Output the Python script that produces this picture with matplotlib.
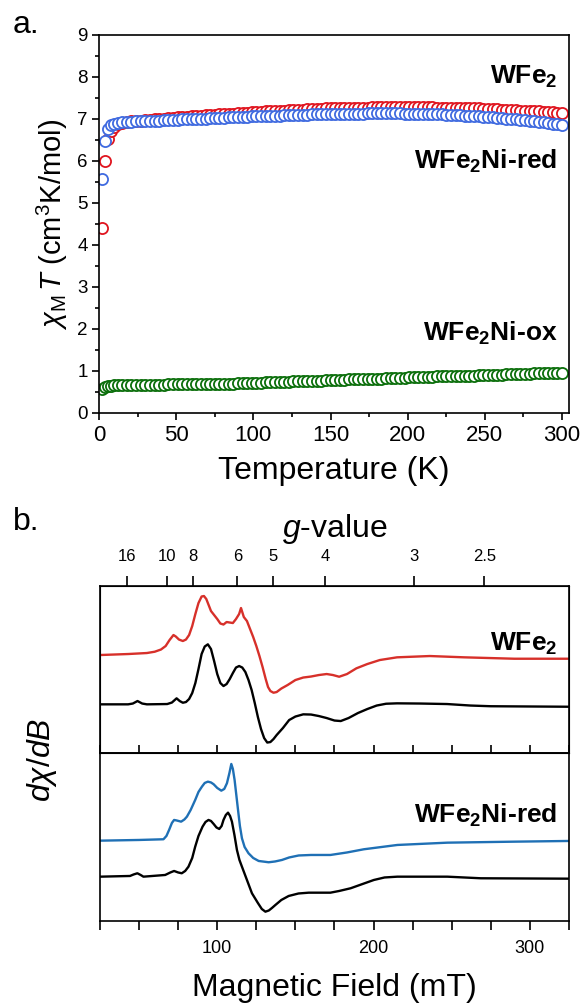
import matplotlib
matplotlib.use("Agg")
import matplotlib.pyplot as plt
from matplotlib.ticker import MultipleLocator, FixedLocator, NullFormatter

plt.rcParams['font.family'] = ['Liberation Sans', 'DejaVu Sans']
plt.rcParams['mathtext.fontset'] = 'custom'
plt.rcParams['mathtext.rm'] = 'Liberation Sans'
plt.rcParams['mathtext.it'] = 'Liberation Sans:italic'
plt.rcParams['mathtext.bf'] = 'Liberation Sans:bold'

# ---- panel a: chi_M T vs temperature ----
temp = [2, 4, 6, 8, 10, 12, 15, 18, 21, 24,
        27, 30, 33, 36, 39, 42, 45, 48, 51, 54,
        57, 60, 63, 66, 69, 72, 75, 78, 81, 84,
        87, 90, 93, 96, 99, 102, 105, 108, 111, 114,
        117, 120, 123, 126, 129, 132, 135, 138, 141, 144,
        147, 150, 153, 156, 159, 162, 165, 168, 171, 174,
        177, 180, 183, 186, 189, 192, 195, 198, 201, 204,
        207, 210, 213, 216, 219, 222, 225, 228, 231, 234,
        237, 240, 243, 246, 249, 252, 255, 258, 261, 264,
        267, 270, 273, 276, 279, 282, 285, 288, 291, 294,
        297, 300]

chiT_wfe2 = [4.40, 6.00, 6.52, 6.72, 6.82, 6.87, 6.90, 6.92, 6.94, 6.95,
             6.96, 6.97, 6.98, 6.99, 7.00, 7.01, 7.02, 7.03, 7.04, 7.05,
             7.05, 7.06, 7.07, 7.08, 7.09, 7.10, 7.10, 7.11, 7.12, 7.13,
             7.13, 7.14, 7.15, 7.15, 7.16, 7.17, 7.17, 7.18, 7.19, 7.19,
             7.20, 7.20, 7.21, 7.21, 7.22, 7.22, 7.23, 7.23, 7.24, 7.24,
             7.25, 7.25, 7.25, 7.26, 7.26, 7.26, 7.27, 7.27, 7.27, 7.27,
             7.28, 7.28, 7.28, 7.28, 7.28, 7.28, 7.28, 7.28, 7.28, 7.28,
             7.28, 7.28, 7.28, 7.28, 7.27, 7.27, 7.27, 7.27, 7.26, 7.26,
             7.26, 7.25, 7.25, 7.25, 7.24, 7.24, 7.23, 7.23, 7.22, 7.22,
             7.21, 7.21, 7.20, 7.20, 7.19, 7.19, 7.18, 7.17, 7.17, 7.16,
             7.15, 7.15]

chiT_red = [5.57, 6.47, 6.75, 6.85, 6.89, 6.91, 6.92, 6.93, 6.93, 6.94,
            6.94, 6.95, 6.95, 6.96, 6.96, 6.97, 6.97, 6.98, 6.98, 6.99,
            6.99, 7.00, 7.00, 7.01, 7.01, 7.02, 7.02, 7.03, 7.03, 7.04,
            7.04, 7.04, 7.05, 7.05, 7.06, 7.06, 7.07, 7.07, 7.07, 7.08,
            7.08, 7.09, 7.09, 7.09, 7.10, 7.10, 7.10, 7.11, 7.11, 7.11,
            7.12, 7.12, 7.12, 7.12, 7.13, 7.13, 7.13, 7.13, 7.13, 7.14,
            7.14, 7.14, 7.14, 7.14, 7.14, 7.14, 7.14, 7.13, 7.13, 7.13,
            7.13, 7.12, 7.12, 7.12, 7.11, 7.11, 7.10, 7.10, 7.09, 7.09,
            7.08, 7.07, 7.07, 7.06, 7.05, 7.04, 7.04, 7.03, 7.02, 7.01,
            7.00, 6.99, 6.98, 6.97, 6.96, 6.95, 6.93, 6.92, 6.91, 6.89,
            6.88, 6.86]

chiT_ox = [0.58, 0.62, 0.64, 0.65, 0.66, 0.66, 0.66, 0.67, 0.67, 0.67,
           0.67, 0.67, 0.67, 0.67, 0.67, 0.67, 0.68, 0.68, 0.68, 0.68,
           0.68, 0.68, 0.68, 0.69, 0.69, 0.69, 0.69, 0.70, 0.70, 0.70,
           0.70, 0.71, 0.71, 0.71, 0.72, 0.72, 0.72, 0.73, 0.73, 0.73,
           0.74, 0.74, 0.74, 0.75, 0.75, 0.76, 0.76, 0.76, 0.77, 0.77,
           0.78, 0.78, 0.78, 0.79, 0.79, 0.80, 0.80, 0.80, 0.81, 0.81,
           0.82, 0.82, 0.82, 0.83, 0.83, 0.84, 0.84, 0.84, 0.85, 0.85,
           0.85, 0.86, 0.86, 0.86, 0.87, 0.87, 0.87, 0.88, 0.88, 0.88,
           0.89, 0.89, 0.89, 0.90, 0.90, 0.90, 0.91, 0.91, 0.91, 0.92,
           0.92, 0.92, 0.93, 0.93, 0.93, 0.94, 0.94, 0.94, 0.95, 0.95,
           0.96, 0.96]

# ---- panel b: EPR spectra (arbitrary units, offset) ----
field_wfe2_exp = [25, 43, 55, 60, 64, 67, 69.5, 72, 73.5, 75.5,
                  78, 80, 82, 84, 86, 88, 90, 91.5, 93, 94.5,
                  96, 98, 100, 102, 104, 106, 108, 110, 112, 114,
                  115.2, 116.2, 117, 119, 121, 123, 125, 127, 129, 131,
                  132.5, 134, 136, 138, 141, 145, 150, 155, 160, 165,
                  170, 174, 178, 183, 189, 196, 204, 215, 236, 258,
                  290, 325]
int_wfe2_exp = [98, 99, 100, 101.3, 103.5, 107, 113, 118, 116.5, 113.5,
                112, 113.5, 118, 127, 139, 150, 156.5, 157, 154, 148,
                142, 138, 134, 129.5, 128.5, 131, 130.5, 130, 134, 139,
                145, 140, 136, 132, 124, 116, 107, 97, 86, 74,
                66, 62, 60.3, 61, 64.5, 68, 73, 75.5, 76.5, 78,
                79, 78, 76.3, 79, 84.7, 89, 93, 95.7, 97, 95.7,
                94.3, 94.3]

field_wfe2_sim = [25, 43, 46, 49, 52, 55, 68, 71, 74, 76,
                  78, 80, 82, 84, 86, 88, 90, 92, 94, 96,
                  98, 100, 102, 104, 106, 108, 110, 112, 114, 116,
                  118, 120, 122, 124, 126, 128, 130, 132, 134, 136,
                  138, 142, 146, 150, 155, 160, 165, 170, 175, 179,
                  184, 190, 196, 202, 208, 215, 230, 247, 262, 275,
                  325]
int_wfe2_sim = [48.7, 48.7, 49.5, 52, 49.5, 48.7, 49, 50.5, 54.7, 52,
                50.3, 51, 54, 60, 70, 84, 99, 106.5, 108.7, 104,
                92, 79, 70, 67, 69, 74, 80, 85.5, 87, 85.5,
                81, 73, 63, 50, 36, 24, 15, 10.5, 11, 14,
                18, 25, 33, 36.5, 38.7, 38.5, 37, 35, 32.5, 32,
                35, 40, 44, 47.5, 49.3, 49.7, 49.5, 49, 47.5, 46.8,
                46.3]

field_red_exp = [25, 50, 65.6, 67.5, 69.2, 71, 72.4, 74, 76.9, 79,
                 80.6, 83, 85.9, 88, 90.2, 92, 94, 96, 97.7, 100,
                 102.6, 104.5, 106.2, 107.8, 109, 110, 111.1, 112.2, 113.3, 114.5,
                 115.8, 117.5, 120, 123, 126.5, 132.9, 137, 141.4, 146, 152.1,
                 160, 172.4, 183, 193.8, 215.2, 247.2, 290, 325]
int_red_exp = [80.3, 81, 81.7, 85, 91, 98, 101, 100.5, 99.3, 101.5,
               104.3, 111, 121, 129, 134.3, 138, 139.3, 138.5, 136.7, 133,
               130.3, 132, 137.7, 148, 157, 152, 141, 126, 111, 95,
               82.7, 74, 67.7, 63, 60, 58.7, 59.5, 61, 63.5, 65.5,
               66, 66, 68.5, 71.7, 76, 78.3, 79.3, 80]

field_red_sim = [25, 44.2, 46.5, 48.9, 51, 52.8, 66.7, 70, 72.4, 75,
                 77.3, 79.5, 81.6, 84, 85.9, 88, 90.6, 92.5, 94.4, 96,
                 97.7, 99.5, 101.3, 102.8, 104, 105.5, 106.9, 108.2, 109.4, 111,
                 112.6, 114.2, 115.8, 119, 122.2, 126, 128.5, 130.8, 133, 135,
                 137.2, 141, 145.7, 152, 158.5, 172.4, 178, 185.3, 193, 200.2,
                 207, 215.2, 247.2, 268.6, 325]
int_red_sim = [44.3, 45, 46.5, 47.7, 46, 44.3, 46, 48.5, 50, 48.5,
               47.7, 50, 54.3, 63, 74.3, 85, 94.3, 99, 101, 100,
               97, 93.5, 92, 95, 101, 106, 108.3, 105, 99.3, 86,
               71, 61, 54.3, 41, 27.7, 18, 12, 9.3, 10.5, 13,
               16, 21, 25, 27.5, 28.3, 28.3, 30, 32.7, 37, 41,
               43.5, 44.3, 44.3, 42.7, 42.3]

g_ticks = [16, 10, 8, 6, 5, 4, 3, 2.5]
hnu_over_mu = 677.0  # mT, converts g to field

red = '#e0141e'
blue = '#3f6ae0'
green = '#0a6e0a'
epr_red = '#d7302a'
epr_blue = '#1f70b5'

fig = plt.figure(figsize=(5.8, 10.05), dpi=100)

# panel a
ax1 = fig.add_axes([0.1707, 0.5891, 0.8103, 0.3761])
mk = dict(marker='o', ls='none', ms=8, mew=1.3, mfc='white')
ax1.plot(temp, chiT_wfe2, mec=red, **mk)
ax1.plot(temp, chiT_red, mec=blue, **mk)
ax1.plot(temp, chiT_ox, mec=green, **mk)
ax1.set_xlim(0, 304.5)
ax1.set_ylim(0, 9)
ax1.xaxis.set_major_locator(MultipleLocator(50))
ax1.xaxis.set_minor_locator(MultipleLocator(25))
ax1.yaxis.set_major_locator(MultipleLocator(1))
ax1.yaxis.set_minor_locator(MultipleLocator(0.5))
ax1.tick_params(axis='both', which='major', direction='out', length=5, width=1.2)
ax1.tick_params(axis='both', which='minor', direction='out', length=3, width=1.2)
ax1.tick_params(axis='x', labelsize=16, pad=4)
ax1.tick_params(axis='y', labelsize=13.5, pad=3)
for s in ax1.spines.values():
    s.set_linewidth(1.2)
ax1.set_xlabel('Temperature (K)', fontsize=23, labelpad=7)
ax1.set_ylabel(r'$\chi_\mathrm{M}\,T$ (cm$^3$K/mol)', fontsize=21, labelpad=5)
ax1.text(0.975, 0.89, r'WFe$_\mathbf{2}$', transform=ax1.transAxes, ha='right',
         va='center', fontsize=19, fontweight='bold')
ax1.text(0.975, 0.665, r'WFe$_\mathbf{2}$Ni-red', transform=ax1.transAxes, ha='right',
         va='center', fontsize=19, fontweight='bold')
ax1.text(0.975, 0.21, r'WFe$_\mathbf{2}$Ni-ox', transform=ax1.transAxes, ha='right',
         va='center', fontsize=19, fontweight='bold')
fig.text(0.022, 0.99, 'a.', fontsize=23, va='top')

# panel b
ax2 = fig.add_axes([0.1724, 0.2507, 0.8086, 0.1662])
ax3 = fig.add_axes([0.1724, 0.0836, 0.8086, 0.1672], sharex=ax2)
ax2.plot(field_wfe2_exp, int_wfe2_exp, color=epr_red, lw=1.7)
ax2.plot(field_wfe2_sim, int_wfe2_sim, color='black', lw=1.7)
ax3.plot(field_red_exp, int_red_exp, color=epr_blue, lw=1.7)
ax3.plot(field_red_sim, int_red_sim, color='black', lw=1.7)
ax2.set_xlim(25, 325)
ax2.set_ylim(0, 167)
ax3.set_ylim(0, 168)
for ax in (ax2, ax3):
    ax.set_yticks([])
    ax.xaxis.set_major_locator(FixedLocator([100, 200, 300]))
    ax.xaxis.set_minor_locator(MultipleLocator(25))
    for s in ax.spines.values():
        s.set_linewidth(1.2)
ax2.tick_params(axis='x', which='both', direction='in', length=6, width=1.2,
                labelbottom=False)
ax3.tick_params(axis='x', which='both', direction='out', length=6.5, width=1.2,
                labelsize=13, pad=7)
ax3.set_xlabel('Magnetic Field (mT)', fontsize=23, labelpad=12)

axg = ax2.twiny()
axg.set_xlim(25, 325)
axg.set_xticks([hnu_over_mu / g for g in g_ticks])
axg.set_xticklabels([f'{g:g}' for g in g_ticks])
axg.xaxis.set_minor_formatter(NullFormatter())
axg.tick_params(axis='x', direction='out', length=7.5, width=1.2, labelsize=12, pad=8)
axg.set_xlabel(r'$g$-value', fontsize=23, labelpad=9)

ax2.text(0.975, 0.655, r'WFe$_\mathbf{2}$', transform=ax2.transAxes, ha='right',
         va='center', fontsize=19, fontweight='bold')
ax3.text(0.975, 0.63, r'WFe$_\mathbf{2}$Ni-red', transform=ax3.transAxes, ha='right',
         va='center', fontsize=19, fontweight='bold')
fig.text(0.072, 1 - 760 / 1005, r'$d\chi/dB$', fontsize=23, rotation=90,
         ha='center', va='center')
fig.text(0.022, 1 - 507 / 1005, 'b.', fontsize=23, va='top')

fig.savefig('out.png', dpi=100)
